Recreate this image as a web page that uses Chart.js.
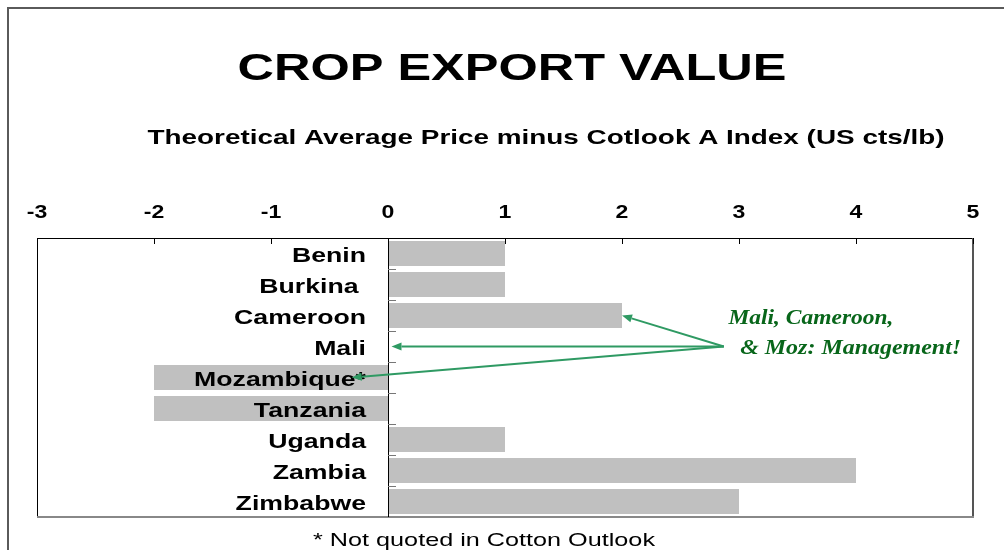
<!DOCTYPE html>
<html>
<head>
<meta charset="utf-8">
<script src="https://cdn.jsdelivr.net/npm/chart.js@4/dist/chart.umd.min.js"></script>
<style>
  html, body { margin: 0; padding: 0; background: #fff; }
  #wrap { width: 1004px; height: 550px; }
</style>
</head>
<body>
<div id="wrap"><canvas id="cropChart" width="1004" height="550"></canvas></div>
<script>
// values
const countries = ['Benin', 'Burkina ', 'Cameroon', 'Mali', 'Mozambique*', 'Tanzania', 'Uganda', 'Zambia', 'Zimbabwe'];
const priceDiff = [1, 1, 2, 0, -2, -2, 1, 4, 3];
const xTicks = [-3, -2, -1, 0, 1, 2, 3, 4, 5];
const noteLines = ['Mali, Cameroon,', '& Moz: Management!'];
const arrowTargets = [['Cameroon', 2.0], ['Mali', 0.03], ['Mozambique*', -0.31]];

// reference text looks stretched sideways, so draw with a horizontal scale
function stretchText(ctx, text, x, y, font, sx, align) {
  ctx.save();
  ctx.font = font;
  const w = ctx.measureText(text).width * sx;
  let left = x;
  if (align === 'center') left = x - w / 2;
  if (align === 'right') left = x - w;
  ctx.translate(left, y);
  ctx.scale(sx, 1);
  ctx.textAlign = 'left';
  ctx.textBaseline = 'alphabetic';
  ctx.fillText(text, 0, 0);
  ctx.restore();
}

function fitText(ctx, text, x, y, font, width, align) {
  ctx.save();
  ctx.font = font;
  const sx = width / ctx.measureText(text).width;
  ctx.restore();
  stretchText(ctx, text, x, y, font, sx, align);
}

function arrow(ctx, x1, y1, x2, y2) {
  const a = Math.atan2(y2 - y1, x2 - x1);
  const len = 10, half = 4;
  const bx = x2 - len * Math.cos(a), by = y2 - len * Math.sin(a);
  ctx.beginPath();
  ctx.moveTo(x1, y1);
  ctx.lineTo(bx, by);
  ctx.stroke();
  ctx.beginPath();
  ctx.moveTo(x2, y2);
  ctx.lineTo(bx + half * Math.sin(a), by - half * Math.cos(a));
  ctx.lineTo(bx - half * Math.sin(a), by + half * Math.cos(a));
  ctx.closePath();
  ctx.fill();
}

const decorPlugin = {
  id: 'decor',
  beforeDatasetsDraw(chart) {
    const ctx = chart.ctx;
    ctx.save();
    // outer frame
    ctx.strokeStyle = '#5a5a5a';
    ctx.lineWidth = 2;
    ctx.beginPath();
    ctx.moveTo(8, 550);
    ctx.lineTo(8, 8);
    ctx.lineTo(1004, 8);
    ctx.stroke();
    ctx.restore();
  },
  afterDatasetsDraw(chart) {
    const ctx = chart.ctx;
    const xs = chart.scales.x, ys = chart.scales.y;
    const { left, right, top, bottom } = chart.chartArea;
    const x0 = xs.getPixelForValue(0);
    ctx.save();

    // plot box
    ctx.strokeStyle = '#000';
    ctx.lineWidth = 1;
    ctx.beginPath();
    ctx.moveTo(left + 0.5, bottom);
    ctx.lineTo(left + 0.5, top + 0.5);
    ctx.lineTo(right, top + 0.5);
    ctx.stroke();
    ctx.strokeStyle = '#555';
    ctx.lineWidth = 2;
    ctx.beginPath();
    ctx.moveTo(right, top);
    ctx.lineTo(right, bottom);
    ctx.stroke();
    ctx.strokeStyle = '#888';
    ctx.beginPath();
    ctx.moveTo(left, bottom);
    ctx.lineTo(right + 1, bottom);
    ctx.stroke();

    // top axis ticks
    ctx.strokeStyle = '#000';
    ctx.lineWidth = 1;
    xTicks.forEach(v => {
      const px = Math.round(xs.getPixelForValue(v)) + 0.5;
      ctx.beginPath();
      ctx.moveTo(px, top);
      ctx.lineTo(px, top + 6);
      ctx.stroke();
    });

    // zero line with category ticks
    ctx.beginPath();
    ctx.moveTo(Math.round(x0) + 0.5, top);
    ctx.lineTo(Math.round(x0) + 0.5, bottom);
    ctx.stroke();
    ctx.strokeStyle = '#777';
    const step = (bottom - top) / countries.length;
    for (let i = 1; i < countries.length; i++) {
      const py = Math.round(top + i * step) + 0.5;
      ctx.beginPath();
      ctx.moveTo(x0, py);
      ctx.lineTo(x0 + 8, py);
      ctx.stroke();
    }

    // tick labels
    ctx.fillStyle = '#000';
    xTicks.forEach(v => {
      stretchText(ctx, String(v), xs.getPixelForValue(v), 218, 'bold 18px "Liberation Sans", Arial', 1.28, 'center');
    });

    // category labels next to the zero line
    countries.forEach(c => {
      stretchText(ctx, c, x0 - 22, ys.getPixelForValue(c) + 8, 'bold 21px "Liberation Sans", Arial', 1.27, 'right');
    });

    // arrows
    ctx.strokeStyle = '#2f9a63';
    ctx.fillStyle = '#2f9a63';
    ctx.lineWidth = 2;
    const sx = xs.getPixelForValue(2.87), sy = ys.getPixelForValue('Mali');
    arrowTargets.forEach(([c, v]) => {
      arrow(ctx, sx, sy, xs.getPixelForValue(v), ys.getPixelForValue(c));
    });

    // annotation
    ctx.fillStyle = '#08661a';
    const nf = 'italic bold 22px "Liberation Serif", serif';
    fitText(ctx, noteLines[0], xs.getPixelForValue(2.91), ys.getPixelForValue('Cameroon') + 8, nf, 165, 'left');
    fitText(ctx, noteLines[1], xs.getPixelForValue(3.01), ys.getPixelForValue('Mali') + 7, nf, 221, 'left');

    // titles and footnote
    ctx.fillStyle = '#000';
    fitText(ctx, 'CROP EXPORT VALUE', 512, 80, 'bold 37px "Liberation Sans", Arial', 549, 'center');
    fitText(ctx, 'Theoretical Average Price minus Cotlook A Index (US cts/lb)', 546, 144, 'bold 21px "Liberation Sans", Arial', 797, 'center');
    fitText(ctx, '* Not quoted in Cotton Outlook', 484, 546, '19px "Liberation Sans", Arial', 342, 'center');
    ctx.restore();
  }
};

new Chart(document.getElementById('cropChart'), {
  type: 'bar',
  data: {
    labels: countries,
    datasets: [{
      data: priceDiff,
      backgroundColor: '#c0c0c0',
      borderWidth: 0,
      barPercentage: 0.8,
      categoryPercentage: 1
    }]
  },
  options: {
    indexAxis: 'y',
    responsive: false,
    animation: false,
    devicePixelRatio: 1,
    layout: { padding: { left: 37, right: 31, top: 238, bottom: 33 } },
    plugins: { legend: { display: false }, tooltip: { enabled: false } },
    scales: {
      x: {
        position: 'top',
        min: -3,
        max: 5,
        ticks: { display: false, stepSize: 1 },
        grid: { display: false },
        border: { display: false },
        afterFit: s => { s.height = 0; }
      },
      y: {
        ticks: { display: false },
        grid: { display: false },
        border: { display: false },
        afterFit: s => { s.width = 0; }
      }
    }
  },
  plugins: [decorPlugin]
});
</script>
</body>
</html>
